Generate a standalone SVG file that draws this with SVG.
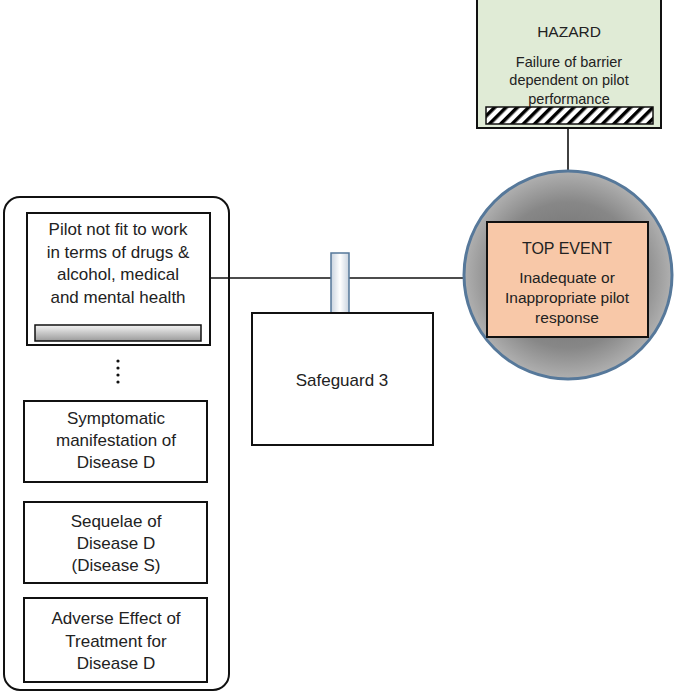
<svg xmlns="http://www.w3.org/2000/svg" width="676" height="698" viewBox="0 0 676 698">
  <defs>
    <pattern id="hatch" patternUnits="userSpaceOnUse" width="8" height="8" patternTransform="rotate(45)">
      <rect width="8" height="8" fill="#ffffff"/>
      <rect width="3.5" height="8" fill="#000000"/>
    </pattern>
    <linearGradient id="barGray" x1="0" y1="0" x2="0" y2="1">
      <stop offset="0" stop-color="#f4f4f4"/>
      <stop offset="1" stop-color="#9a9a9a"/>
    </linearGradient>
    <linearGradient id="barBlue" x1="0" y1="0" x2="1" y2="0">
      <stop offset="0" stop-color="#c9d3df"/>
      <stop offset="0.5" stop-color="#ffffff"/>
      <stop offset="1" stop-color="#c9d3df"/>
    </linearGradient>
    <radialGradient id="sphere" cx="0.5" cy="0.5" r="0.5">
      <stop offset="0" stop-color="#666666"/>
      <stop offset="0.7" stop-color="#878787"/>
      <stop offset="1" stop-color="#b0b0b0"/>
    </radialGradient>
  </defs>
  <style>
    text { font-family: "Liberation Sans", "Open Sans", sans-serif; fill: #222222; text-anchor: middle; }
    .box { fill: #ffffff; stroke: #111111; stroke-width: 2; }
    .t17 { font-size: 17px; }
    .t16 { font-size: 16px; }
    .t15 { font-size: 15.5px; }
    .t14 { font-size: 14.5px; }
    .wire { stroke: #111111; stroke-width: 1.6; fill: none; }
  </style>

  <rect width="676" height="698" fill="#ffffff"/>

  <!-- connectors -->
  <g id="connectors">
    <line class="wire" x1="568" y1="128" x2="568" y2="172"/>
    <line class="wire" x1="210" y1="278" x2="465" y2="278"/>
  </g>

  <!-- hazard -->
  <g id="hazard">
    <rect x="477" y="-4" width="184" height="132" fill="#e0ebd6" stroke="#111111" stroke-width="2"/>
    <text class="t15" x="569" y="37">HAZARD</text>
    <text class="t14" x="569" y="67">Failure of barrier</text>
    <text class="t14" x="569" y="85">dependent on pilot</text>
    <text class="t14" x="569" y="104">performance</text>
    <rect x="486" y="107" width="167" height="17" fill="url(#hatch)" stroke="#111111" stroke-width="1.5"/>
  </g>

  <!-- top event -->
  <g id="top-event">
    <circle cx="568" cy="275" r="104" fill="url(#sphere)" stroke="#56789a" stroke-width="3"/>
    <rect x="487" y="222" width="161" height="115" fill="#f8c8a8" stroke="#111111" stroke-width="2"/>
    <text class="t16" x="567" y="254">TOP EVENT</text>
    <text class="t15" x="567" y="283">Inadequate or</text>
    <text class="t15" x="567" y="303">Inappropriate pilot</text>
    <text class="t15" x="567" y="323">response</text>
  </g>

  <!-- safeguard -->
  <g id="safeguard-3">
    <rect x="331" y="253" width="18" height="60" fill="url(#barBlue)" stroke="#56789a" stroke-width="1.5"/>
    <rect class="box" x="252" y="313" width="181" height="132"/>
    <text class="t17" x="342" y="386">Safeguard 3</text>
  </g>

  <!-- threat group -->
  <g id="threats">
    <rect x="4" y="197" width="225" height="493" rx="16" ry="16" fill="none" stroke="#111111" stroke-width="2"/>
  </g>

  <g id="threat-pilot">
    <rect class="box" x="27" y="213" width="183" height="132"/>
    <text class="t17" x="118" y="235">Pilot not fit to work</text>
    <text class="t17" x="118" y="258">in terms of drugs &amp;</text>
    <text class="t17" x="118" y="280">alcohol, medical</text>
    <text class="t17" x="118" y="303">and mental health</text>
    <rect x="35" y="325" width="166" height="16" fill="url(#barGray)" stroke="#111111" stroke-width="1.5"/>
  </g>

  <g id="ellipsis">
    <circle cx="118" cy="361" r="1.6" fill="#111111"/>
    <circle cx="118" cy="368" r="1.6" fill="#111111"/>
    <circle cx="118" cy="375" r="1.6" fill="#111111"/>
    <circle cx="118" cy="382" r="1.6" fill="#111111"/>
  </g>

  <g id="threat-symptomatic">
    <rect class="box" x="24" y="401" width="183" height="81"/>
    <text class="t17" x="116" y="424">Symptomatic</text>
    <text class="t17" x="116" y="446">manifestation of</text>
    <text class="t17" x="116" y="468">Disease D</text>
  </g>

  <g id="threat-sequelae">
    <rect class="box" x="24" y="502" width="183" height="81"/>
    <text class="t17" x="116" y="527">Sequelae of</text>
    <text class="t17" x="116" y="549">Disease D</text>
    <text class="t17" x="116" y="571">(Disease S)</text>
  </g>

  <g id="threat-adverse">
    <rect class="box" x="24" y="598" width="183" height="84"/>
    <text class="t17" x="116" y="624">Adverse Effect of</text>
    <text class="t17" x="116" y="647">Treatment for</text>
    <text class="t17" x="116" y="669">Disease D</text>
  </g>
</svg>
